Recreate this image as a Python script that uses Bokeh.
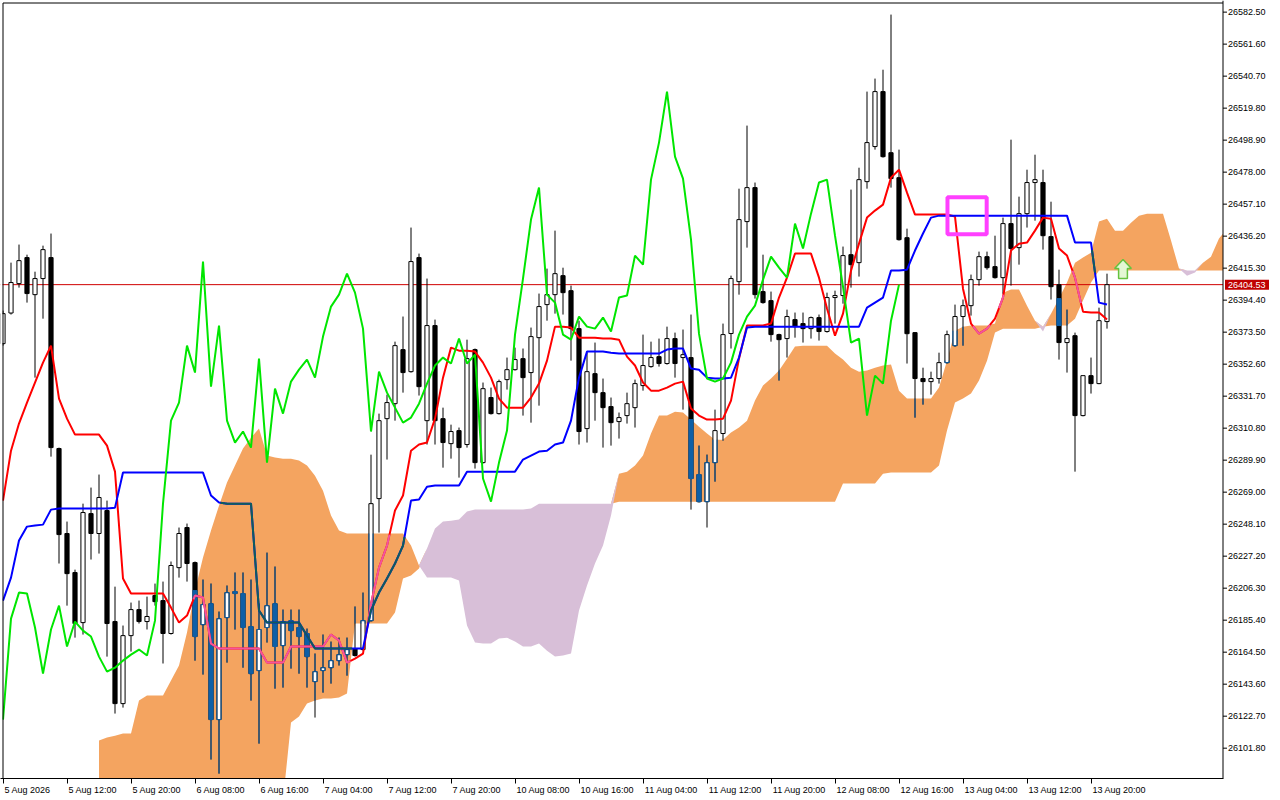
import numpy as np
from bokeh.plotting import figure
from bokeh.models import Range1d, FixedTicker, CustomJSTickFormatter
from bokeh.core.properties import value
from bokeh.embed import file_html
from bokeh.resources import INLINE

# ---------------- data (H1 bars, index 0..138) ----------------
OPEN = [26366.0, 26386.0, 26405.2, 26422.2, 26398.0, 26408.5, 26422.2, 26297.5, 26242.0, 26216.5,
        26183.8, 26255.0, 26242.0, 26257.0, 26184.5, 26130.9, 26175.3, 26192.3, 26184.5, 26201.5,
        26198.2, 26176.7, 26219.7, 26245.9, 26223.0, 26182.5, 26196.2, 26120.5, 26187.1, 26204.1,
        26202.8, 26181.2, 26152.5, 26180.6, 26196.2, 26168.8, 26185.1, 26180.6, 26176.7, 26145.3,
        26152.5, 26154.4, 26159.0, 26162.9, 26166.9, 26166.2, 26185.1, 26264.8, 26317.0, 26326.8,
        26362.1, 26347.7, 26422.2, 26315.7, 26377.8, 26317.0, 26300.7, 26309.2, 26300.1, 26362.1,
        26288.3, 26330.8, 26320.3, 26342.5, 26349.0, 26356.2, 26347.1, 26369.9, 26391.5, 26398.0,
        26410.4, 26400.6, 26375.8, 26310.5, 26346.4, 26334.0, 26324.9, 26315.1, 26319.0, 26324.2,
        26338.6, 26351.0, 26357.5, 26353.0, 26369.3, 26356.9, 26356.9, 26280.5, 26262.8, 26288.3,
        26307.3, 26372.6, 26406.5, 26445.7, 26467.9, 26400.0, 26394.1, 26371.9, 26369.3, 26381.7,
        26379.1, 26375.8, 26383.0, 26373.9, 26396.1, 26397.4, 26424.1, 26418.9, 26471.8, 26494.7,
        26530.6, 26490.7, 26474.4, 26435.2, 26373.2, 26343.2, 26341.2, 26343.2, 26353.6, 26364.7,
        26383.7, 26390.8, 26407.8, 26422.8, 26416.3, 26409.1, 26444.4, 26428.7, 26450.9, 26471.2,
        26471.2, 26435.9, 26404.5, 26366.7, 26371.2, 26319.0, 26345.1, 26339.9, 26380.4]
HIGH = [26387.6, 26418.9, 26430.7, 26424.1, 26413.0, 26430.0, 26437.9, 26298.1, 26249.8, 26218.4,
        26261.5, 26272.0, 26280.5, 26263.5, 26207.3, 26181.9, 26196.9, 26198.2, 26200.8, 26209.3,
        26210.6, 26223.7, 26245.9, 26248.5, 26223.7, 26211.9, 26209.3, 26191.0, 26208.0, 26216.5,
        26216.5, 26211.9, 26196.2, 26229.5, 26220.4, 26192.3, 26192.3, 26192.3, 26179.9, 26163.6,
        26176.0, 26171.4, 26174.0, 26174.0, 26194.3, 26203.4, 26293.5, 26320.3, 26332.7, 26367.3,
        26383.7, 26441.8, 26424.8, 26408.5, 26381.7, 26324.2, 26313.1, 26311.2, 26368.6, 26362.8,
        26340.6, 26337.3, 26342.5, 26356.9, 26363.4, 26362.8, 26376.5, 26398.7, 26415.0, 26439.8,
        26415.6, 26403.9, 26381.0, 26360.1, 26366.7, 26343.2, 26330.8, 26321.0, 26334.0, 26342.5,
        26371.9, 26367.3, 26369.3, 26377.1, 26373.2, 26375.2, 26385.0, 26299.4, 26293.5, 26322.9,
        26379.1, 26410.4, 26467.2, 26508.4, 26471.2, 26424.1, 26400.0, 26372.5, 26388.2, 26386.3,
        26386.3, 26383.7, 26385.0, 26399.3, 26400.6, 26429.4, 26466.6, 26480.9, 26530.6, 26539.1,
        26544.9, 26580.9, 26492.7, 26441.1, 26373.5, 26350.3, 26347.7, 26360.1, 26374.5, 26391.5,
        26394.8, 26411.1, 26426.1, 26426.1, 26436.5, 26448.3, 26499.2, 26462.0, 26479.6, 26489.4,
        26479.6, 26458.7, 26414.3, 26388.2, 26373.2, 26345.1, 26356.9, 26389.5, 26411.7]
LOW = [26364.7, 26385.0, 26402.6, 26392.8, 26343.8, 26382.3, 26292.2, 26222.4, 26194.9, 26174.0,
       26176.0, 26225.0, 26228.9, 26161.6, 26124.4, 26128.3, 26164.9, 26183.2, 26179.3, 26194.9,
       26157.1, 26176.0, 26213.2, 26210.6, 26159.0, 26149.9, 26094.4, 26085.2, 26157.7, 26179.3,
       26154.4, 26132.9, 26104.8, 26170.8, 26140.7, 26141.4, 26153.8, 26150.5, 26141.4, 26121.8,
       26138.1, 26144.0, 26155.8, 26149.2, 26161.6, 26165.5, 26184.5, 26242.6, 26290.3, 26315.7,
       26334.0, 26347.1, 26332.1, 26300.1, 26300.1, 26285.0, 26290.9, 26278.5, 26298.1, 26284.4,
       26287.7, 26319.7, 26319.7, 26336.0, 26348.4, 26319.0, 26314.4, 26325.5, 26381.0, 26385.6,
       26385.0, 26354.9, 26300.1, 26301.4, 26315.7, 26298.1, 26299.4, 26304.0, 26313.8, 26311.2,
       26335.3, 26350.3, 26351.0, 26352.3, 26343.8, 26322.9, 26257.6, 26262.2, 26245.9, 26275.9,
       26302.7, 26362.8, 26398.0, 26428.7, 26395.4, 26392.1, 26367.3, 26341.9, 26356.9, 26369.9,
       26366.7, 26369.3, 26368.0, 26373.2, 26379.1, 26392.1, 26402.6, 26409.8, 26467.2, 26492.7,
       26487.5, 26467.9, 26433.3, 26353.0, 26317.7, 26326.2, 26332.7, 26339.9, 26353.0, 26364.0,
       26364.7, 26384.3, 26403.9, 26414.3, 26408.5, 26398.7, 26403.9, 26417.6, 26441.8, 26446.3,
       26427.4, 26394.8, 26355.6, 26347.1, 26282.4, 26318.5, 26333.4, 26339.5, 26375.8]
CLOSE = [26385.6, 26405.9, 26420.2, 26398.7, 26408.5, 26427.4, 26298.1, 26241.3, 26215.8, 26183.2,
         26255.7, 26242.0, 26265.5, 26183.2, 26130.9, 26175.3, 26192.3, 26184.5, 26187.8, 26197.5,
         26176.7, 26221.1, 26242.0, 26222.4, 26174.7, 26195.6, 26120.5, 26186.4, 26203.4, 26202.8,
         26180.6, 26150.5, 26179.3, 26194.9, 26168.2, 26184.5, 26178.6, 26174.7, 26161.6, 26151.8,
         26154.4, 26159.0, 26162.9, 26166.2, 26162.3, 26185.1, 26261.5, 26315.7, 26327.5, 26364.7,
         26347.1, 26419.6, 26337.9, 26377.8, 26315.7, 26301.4, 26308.6, 26298.1, 26356.2, 26288.3,
         26336.6, 26320.3, 26341.2, 26349.0, 26355.6, 26343.8, 26370.6, 26390.2, 26398.0, 26411.7,
         26399.3, 26375.8, 26308.6, 26347.7, 26334.0, 26324.2, 26314.4, 26317.7, 26326.8, 26339.9,
         26351.7, 26356.9, 26353.0, 26369.3, 26353.0, 26358.8, 26277.9, 26262.8, 26288.3, 26309.2,
         26371.9, 26408.5, 26447.0, 26467.9, 26398.0, 26392.8, 26371.9, 26368.6, 26383.7, 26377.1,
         26375.8, 26383.0, 26373.9, 26396.1, 26397.4, 26423.5, 26417.6, 26473.1, 26497.3, 26530.6,
         26488.1, 26473.8, 26433.9, 26372.5, 26343.2, 26341.2, 26343.2, 26353.6, 26371.9, 26383.7,
         26390.8, 26407.8, 26422.8, 26415.6, 26409.1, 26444.4, 26428.1, 26450.9, 26471.2, 26473.1,
         26436.5, 26403.2, 26366.7, 26369.3, 26319.0, 26345.1, 26339.9, 26381.0, 26404.53]

TENKAN = [26263.5, 26296.1, 26313.8, 26327.5, 26340.6, 26353.6, 26364.7, 26330.1, 26317.0, 26306.6,
          26306.6, 26306.6, 26306.6, 26299.4, 26282.4, 26212.6, 26202.8, 26202.8, 26202.8, 26202.8,
          26202.8, 26193.6, 26183.8, 26188.4, 26201.5, 26200.2, 26170.1, 26166.9, 26166.9, 26166.9,
          26166.9, 26166.9, 26166.9, 26157.7, 26157.7, 26157.7, 26168.2, 26168.2, 26168.2, 26168.2,
          26168.2, 26176.0, 26172.1, 26157.7, 26160.3, 26163.6, 26196.2, 26219.7, 26234.1, 26257.0,
          26266.8, 26296.1, 26300.1, 26301.4, 26317.0, 26343.8, 26363.4, 26361.4, 26361.4, 26360.8,
          26353.6, 26343.8, 26330.1, 26324.2, 26324.2, 26324.2, 26330.8, 26339.9, 26354.9, 26377.1,
          26377.1, 26376.5, 26369.9, 26369.9, 26369.9, 26369.3, 26369.3, 26368.6, 26357.5, 26351.7,
          26340.6, 26335.3, 26335.3, 26337.3, 26339.9, 26341.2, 26323.6, 26319.0, 26316.4, 26316.4,
          26317.0, 26328.8, 26356.2, 26377.8, 26377.8, 26377.8, 26379.1, 26396.1, 26409.1, 26424.8,
          26424.8, 26424.8, 26409.1, 26388.9, 26371.2, 26385.6, 26413.7, 26431.3, 26448.3, 26452.9,
          26456.8, 26474.4, 26479.6, 26464.6, 26450.3, 26450.3, 26450.3, 26450.3, 26450.3, 26449.0,
          26401.9, 26379.1, 26372.5, 26375.8, 26382.3, 26396.1, 26426.8, 26431.3, 26432.0, 26439.8,
          26448.3, 26447.6, 26428.1, 26423.5, 26409.1, 26386.9, 26386.3, 26386.3, 26381.7]
KIJUN = [26198.2, 26213.2, 26237.4, 26246.5, 26247.2, 26247.8, 26257.6, 26258.3, 26258.3, 26258.3,
         26258.3, 26258.3, 26258.3, 26258.3, 26258.9, 26281.8, 26281.8, 26281.8, 26281.8, 26281.8,
         26281.8, 26281.8, 26281.8, 26281.8, 26281.8, 26281.8, 26266.8, 26262.2, 26261.5, 26261.5,
         26261.5, 26261.5, 26191.7, 26183.8, 26183.8, 26183.8, 26183.8, 26183.8, 26175.3, 26166.9,
         26166.9, 26166.9, 26166.9, 26166.9, 26166.9, 26166.9, 26191.7, 26203.4, 26212.6, 26222.4,
         26234.1, 26263.5, 26264.2, 26272.6, 26273.3, 26273.3, 26273.3, 26273.3, 26282.4, 26282.4,
         26282.4, 26282.4, 26282.4, 26282.4, 26282.4, 26290.3, 26292.9, 26295.5, 26296.1, 26300.1,
         26301.4, 26315.7, 26343.8, 26360.8, 26360.8, 26360.8, 26360.1, 26359.5, 26359.5, 26359.5,
         26359.5, 26359.5, 26359.5, 26362.1, 26362.8, 26362.8, 26349.7, 26349.0, 26343.8, 26343.2,
         26343.2, 26343.8, 26356.9, 26376.5, 26377.1, 26377.1, 26377.1, 26377.1, 26377.1, 26377.1,
         26377.1, 26377.1, 26377.1, 26377.1, 26377.1, 26377.1, 26377.1, 26377.1, 26389.5, 26392.8,
         26396.1, 26413.7, 26413.7, 26414.3, 26426.8, 26437.9, 26448.3, 26449.6, 26449.6, 26449.6,
         26449.6, 26449.6, 26449.6, 26449.6, 26449.6, 26449.6, 26449.6, 26449.6, 26449.6, 26449.6,
         26449.6, 26449.6, 26449.6, 26449.6, 26432.0, 26432.0, 26432.0, 26392.8, 26391.5]

# Senkou spans, shifted forward: first value belongs to bar SPAN_START
SPAN_START = 12
SPAN_A = [26106.8, 26108.7, 26110.0, 26111.4, 26111.4, 26132.9, 26136.2, 26136.2, 26136.2, 26146.0,
          26155.8, 26177.3, 26204.7, 26226.3, 26243.9, 26260.2, 26275.3, 26286.4, 26297.5, 26304.6,
          26310.5, 26292.9, 26291.6, 26290.9, 26290.9, 26289.6, 26286.4, 26279.8, 26270.0, 26253.7,
          26243.9, 26242.0, 26242.0, 26242.0, 26242.0, 26242.0, 26242.0, 26242.0, 26242.0, 26234.1,
          26221.1, 26213.2, 26213.2, 26213.2, 26213.2, 26211.3, 26181.9, 26170.8, 26170.1, 26170.1,
          26173.4, 26174.0, 26171.4, 26168.2, 26168.2, 26170.1, 26165.5, 26161.6, 26162.3, 26163.6,
          26191.7, 26208.0, 26222.4, 26234.1, 26253.7, 26281.1, 26282.4, 26286.4, 26292.9, 26307.3,
          26319.0, 26319.0, 26321.6, 26321.0, 26316.4, 26311.8, 26307.3, 26303.3, 26303.3, 26307.9,
          26311.2, 26315.7, 26328.8, 26338.6, 26343.2, 26348.4, 26356.2, 26364.1, 26364.7, 26364.7,
          26364.7, 26364.7, 26359.5, 26355.6, 26350.3, 26347.7, 26348.4, 26350.3, 26351.7, 26352.3,
          26335.3, 26330.1, 26330.1, 26330.1, 26330.1, 26337.3, 26354.9, 26374.5, 26377.1, 26377.8,
          26377.8, 26377.8, 26379.1, 26399.3, 26401.3, 26401.3, 26390.8, 26381.0, 26373.9, 26385.6,
          26395.4, 26405.9, 26418.9, 26422.2, 26425.4, 26445.7, 26447.6, 26439.8, 26439.8, 26445.0,
          26449.6, 26450.9, 26450.9, 26450.9, 26433.3, 26415.0, 26410.4, 26412.4, 26418.9, 26422.8,
          26434.6, 26441.1]
SPAN_B = [26067.6, 26067.6, 26067.6, 26067.6, 26067.6, 26067.6, 26067.6, 26067.6, 26067.6, 26067.6,
          26067.6, 26067.6, 26067.6, 26067.6, 26067.6, 26067.6, 26067.6, 26067.6, 26067.6, 26067.6,
          26067.6, 26067.6, 26067.6, 26067.6, 26118.5, 26122.5, 26130.9, 26132.9, 26134.2, 26134.2,
          26134.9, 26137.5, 26183.2, 26183.2, 26183.2, 26183.2, 26183.2, 26190.4, 26212.6, 26214.5,
          26219.1, 26232.2, 26245.2, 26249.8, 26250.4, 26251.1, 26256.3, 26257.6, 26257.6, 26257.6,
          26257.6, 26257.6, 26257.6, 26257.6, 26258.3, 26261.5, 26261.5, 26261.5, 26261.5, 26261.5,
          26261.5, 26261.5, 26261.5, 26261.5, 26261.5, 26262.8, 26262.8, 26262.8, 26262.8, 26262.8,
          26262.8, 26262.8, 26262.8, 26262.8, 26262.8, 26262.8, 26262.8, 26262.8, 26262.8, 26262.8,
          26262.8, 26262.8, 26262.8, 26262.8, 26262.8, 26262.8, 26262.8, 26262.8, 26262.8, 26262.8,
          26262.8, 26262.8, 26262.8, 26274.6, 26274.6, 26274.6, 26274.6, 26274.6, 26281.1, 26281.8,
          26281.8, 26281.8, 26281.8, 26281.8, 26281.8, 26286.4, 26309.2, 26327.5, 26330.1, 26333.4,
          26341.9, 26354.9, 26373.2, 26375.8, 26375.8, 26375.8, 26375.8, 26375.8, 26377.1, 26377.8,
          26377.8, 26377.8, 26382.3, 26394.1, 26405.9, 26413.7, 26413.7, 26413.7, 26413.7, 26413.7,
          26413.7, 26413.7, 26413.7, 26413.7, 26413.7, 26413.7, 26413.7, 26413.7, 26413.7, 26413.7,
          26413.7, 26413.7]
CHIKOU_SHIFT = 26

TICK_BARS = [0, 8, 16, 24, 32, 40, 48, 56, 64, 72, 80, 88, 96, 104, 112, 120, 128, 136]
X_LABELS = ["5 Aug 2026", "5 Aug 12:00", "5 Aug 20:00", "6 Aug 08:00", "6 Aug 16:00",
            "7 Aug 04:00", "7 Aug 12:00", "7 Aug 20:00", "10 Aug 08:00", "10 Aug 16:00",
            "11 Aug 04:00", "11 Aug 12:00", "11 Aug 20:00", "12 Aug 08:00", "12 Aug 16:00",
            "13 Aug 04:00", "13 Aug 12:00", "13 Aug 20:00"]
Y_TICKS = [26101.80, 26122.70, 26143.60, 26164.50, 26185.40, 26206.30, 26227.20, 26248.10,
           26269.00, 26289.90, 26310.80, 26331.70, 26352.60, 26373.50, 26394.40, 26415.30,
           26436.20, 26457.10, 26478.00, 26498.90, 26519.80, 26540.70, 26561.60, 26582.50]
LAST_PRICE = 26404.53

# marked zone (bars / prices) and signal arrow
BOX_BARS = (118.06, 122.96)
BOX_PRICES = (26437.4, 26461.6)
ARROW_BAR = 140
ARROW_PRICES = (26408.5, 26415.0, 26420.9)   # base, neck, tip

# ---------------- styling / geometry ----------------
ORANGE = "#F4A460"
THISTLE = "#D8BFD8"
IN_BLUE = "#0E5FA6"
PINK = "#F2559F"
TEAL = "#0E5C5C"
RED = "#FF0000"
BLUE = "#0000FF"
GREEN = "#00E600"
FONT = "Liberation Sans"
FS = "9px"

PX = 8.0                       # pixels per bar
FRAME_W, FRAME_H = 1280, 778
X_START = -2.5 / PX            # bar 0 sits 2.5px right of the canvas edge
X_END = X_START + FRAME_W / PX
X_AXIS = 152.5                 # price-scale line position (in bars)
Y_MIN, Y_MAX = 26082.0, 26590.1
PY = (Y_MAX - Y_MIN) / FRAME_H  # price per pixel
BW = 0.52

p = figure(frame_width=FRAME_W, frame_height=FRAME_H,
           x_range=Range1d(X_START, X_END), y_range=Range1d(Y_MIN, Y_MAX),
           y_axis_location=None, output_backend="svg", toolbar_location=None,
           min_border_left=0, min_border_top=0, min_border_right=0, min_border_bottom=0,
           background_fill_color="white", border_fill_color="white")
p.grid.visible = False
p.outline_line_color = None

O = np.array(OPEN); H = np.array(HIGH); L = np.array(LOW); C = np.array(CLOSE)
n = len(C)
xs = np.arange(n, dtype=float)
A = np.array(SPAN_A); B = np.array(SPAN_B)
span_x = np.arange(SPAN_START, SPAN_START + len(A), dtype=float)
ctop = np.maximum(A, B)


def cloud_at(xq):
    a = np.interp(xq, span_x, A, left=np.nan, right=np.nan)
    b = np.interp(xq, span_x, B, left=np.nan, right=np.nan)
    return np.minimum(a, b), np.maximum(a, b)


# cloud
p.varea(x=span_x, y1=B, y2=ctop, fill_color=ORANGE)
p.varea(x=span_x, y1=A, y2=ctop, fill_color=THISTLE)

# last price line
p.segment(x0=[X_START], x1=[X_AXIS], y0=[LAST_PRICE], y1=[LAST_PRICE],
          line_color="#D00000", line_width=1)

# candles
lo, hi = cloud_at(xs)
p.segment(x0=xs, y0=L, x1=xs, y1=H, line_color="black", line_width=1)
with np.errstate(invalid="ignore"):
    wlo = np.maximum(L, lo); whi = np.minimum(H, hi)
    mw = whi > wlo
p.segment(x0=xs[mw], y0=wlo[mw], x1=xs[mw], y1=whi[mw], line_color=IN_BLUE, line_width=1)

btop = np.maximum(O, C); bbot = np.minimum(O, C)
bull = C > O
bear = ~bull
p.vbar(x=xs[bull], width=BW, top=btop[bull], bottom=bbot[bull],
       fill_color="white", line_color="black", line_width=1)
p.vbar(x=xs[bear], width=BW, top=btop[bear], bottom=bbot[bear],
       fill_color="black", line_color="black", line_width=1)

with np.errstate(invalid="ignore"):
    clo = np.maximum(bbot, lo); chi = np.minimum(btop, hi)
    mb = chi > clo
    top_in = (btop >= lo) & (btop <= hi)
    bot_in = (bbot >= lo) & (bbot <= hi)
mbear = mb & bear
p.vbar(x=xs[mbear], width=BW, top=chi[mbear], bottom=clo[mbear],
       fill_color=IN_BLUE, line_color=IN_BLUE, line_width=1)
mbull = mb & bull
for dx in (-BW / 2, BW / 2):
    p.segment(x0=xs[mbull] + dx, x1=xs[mbull] + dx, y0=clo[mbull], y1=chi[mbull],
              line_color=IN_BLUE, line_width=1)
mt = bull & top_in
p.segment(x0=xs[mt] - BW / 2, x1=xs[mt] + BW / 2, y0=btop[mt], y1=btop[mt],
          line_color=IN_BLUE, line_width=1)
mbt = bull & bot_in
p.segment(x0=xs[mbt] - BW / 2, x1=xs[mbt] + BW / 2, y0=bbot[mbt], y1=bbot[mbt],
          line_color=IN_BLUE, line_width=1)

# tenkan / kijun, recoloured where they run through the cloud
fx = np.linspace(0, n - 1, (n - 1) * 16 + 1)
flo, fhi = cloud_at(fx)


def indicator(vals, color, in_color):
    vals = np.array(vals)
    p.line(xs, vals, line_color=color, line_width=2)
    fy = np.interp(fx, xs, vals)
    with np.errstate(invalid="ignore"):
        inside = (fy >= flo) & (fy <= fhi)
    p.line(fx, np.where(inside, fy, np.nan), line_color=in_color, line_width=2)


indicator(TENKAN, RED, PINK)
indicator(KIJUN, BLUE, TEAL)

# chikou span: closes shifted back
p.line(xs[:n - CHIKOU_SHIFT], C[CHIKOU_SHIFT:], line_color=GREEN, line_width=2)

# marked zone
p.quad(left=[BOX_BARS[0]], right=[BOX_BARS[1]], bottom=[BOX_PRICES[0]], top=[BOX_PRICES[1]],
       fill_alpha=0, line_color="#FF40FF", line_width=4)

# signal arrow
ab, an, at = ARROW_PRICES
axs = [ARROW_BAR, ARROW_BAR + 1.05, ARROW_BAR + 0.55, ARROW_BAR + 0.55,
       ARROW_BAR - 0.55, ARROW_BAR - 0.55, ARROW_BAR - 1.05]
ays = [at, an, an, ab, ab, an, an]
p.patch(axs, ays, fill_color="#E4F7D4", line_color="#66C23F", line_width=1.5)

# ---------- chart border and price scale (drawn through the same scales) ----------
p.quad(left=[X_START], right=[X_START + 2 / PX], bottom=[Y_MIN], top=[Y_MAX],
       fill_color="white", line_color=None)
p.quad(left=[X_AXIS], right=[X_END], bottom=[Y_MIN], top=[Y_MAX],
       fill_color="white", line_color=None)
y_border = Y_MAX - 2.5 * PY
p.segment(x0=[0.0, 0.0], x1=[0.0, X_AXIS], y0=[Y_MIN, y_border], y1=[y_border, y_border],
          line_color="black", line_width=1)
p.segment(x0=[X_AXIS], x1=[X_AXIS], y0=[Y_MIN], y1=[Y_MAX], line_color="black", line_width=1)
p.segment(x0=[X_AXIS] * len(Y_TICKS), x1=[X_AXIS + 4 / PX] * len(Y_TICKS),
          y0=Y_TICKS, y1=Y_TICKS, line_color="black", line_width=1)
p.text(x=[X_AXIS + 5 / PX] * len(Y_TICKS), y=Y_TICKS, text=[f"{v:.2f}" for v in Y_TICKS],
       text_font=value(FONT), text_font_size=value(FS), text_color="black",
       text_align="left", text_baseline="middle")
# last price tag
p.quad(left=[X_AXIS + 2 / PX], right=[X_AXIS + 46 / PX],
       bottom=[LAST_PRICE - 5 * PY], top=[LAST_PRICE + 5 * PY],
       fill_color="#C00000", line_color=None)
p.text(x=[X_AXIS + 5 / PX], y=[LAST_PRICE], text=[f"{LAST_PRICE:.2f}"],
       text_font=value(FONT), text_font_size=value(FS), text_color="white",
       text_align="left", text_baseline="middle")

# ---------- time axis: tick marks = minor ticks at the bars, labels start right of them ----------
CHAR_W = {" ": 0.278, ":": 0.278, "A": 0.667, "u": 0.556, "g": 0.556}
fs_px = 9.0


def text_w(s):
    return sum(CHAR_W.get(ch, 0.556) for ch in s) * fs_px


label_pos = [b + (1.5 + text_w(s) / 2) / PX for b, s in zip(TICK_BARS, X_LABELS)]

xa = p.xaxis[0]
xa.ticker = FixedTicker(ticks=label_pos, minor_ticks=TICK_BARS)
xa.formatter = CustomJSTickFormatter(args=dict(labels=X_LABELS), code="return labels[index]")
xa.bounds = (X_START, X_AXIS)
xa.axis_line_color = "black"
xa.major_tick_line_color = None
xa.major_tick_in = 0
xa.major_tick_out = 4
xa.minor_tick_line_color = "black"
xa.minor_tick_in = 0
xa.minor_tick_out = 5
xa.major_label_standoff = 1
xa.major_label_text_font = FONT
xa.major_label_text_font_size = FS
xa.major_label_text_color = "black"

open("out.html", "w").write(file_html(p, INLINE))
